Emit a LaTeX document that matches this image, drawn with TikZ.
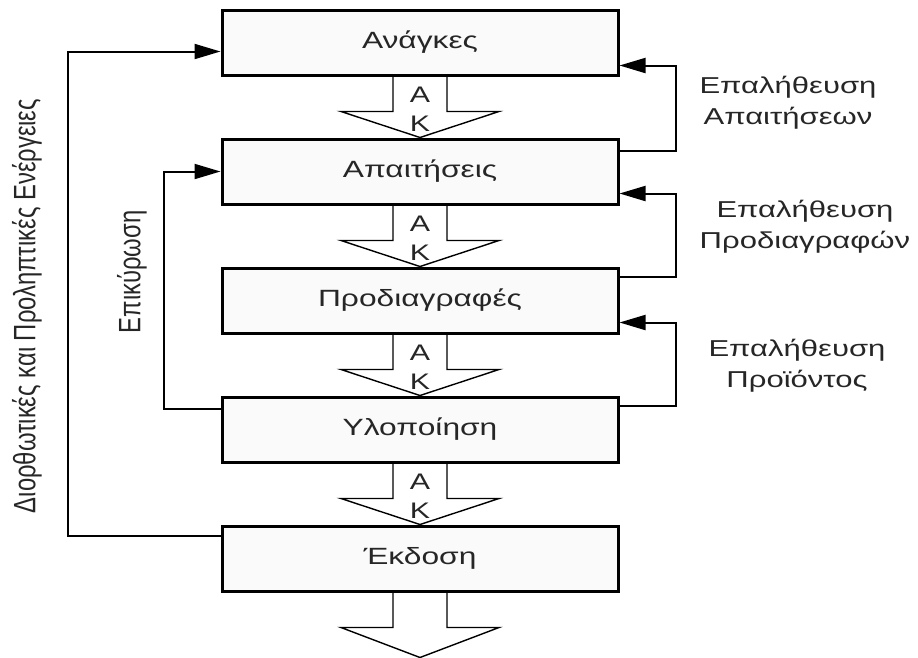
\documentclass[tikz,border=0pt]{standalone}
\usepackage{fontspec}
\setmainfont{Liberation Sans}
\newfontfamily\widefont{Liberation Sans}[FakeStretch=1.35]
\usetikzlibrary{arrows.meta,calc,backgrounds}

\begin{document}
\begin{tikzpicture}[x=1pt,y=-1pt,
  stage/.style={draw=black, line width=3pt, fill=gray!4, minimum width=396pt,
    minimum height=65pt, inner sep=0pt, text=black!85,
    font=\widefont\fontsize{23.5}{28}\selectfont},
  flowarrow/.style={draw=black, line width=1.4pt, fill=white, line join=miter},
  fb/.style={draw=black, line width=2pt, -{Triangle[length=26pt,width=15pt]}},
  lbl/.style={font=\widefont\fontsize{23}{31}\selectfont, align=center, text=black!85},
  vlbl/.style={rotate=90, inner sep=0pt, text=black!85, font=\fontsize{23.8}{28}\selectfont},
  ak/.style={font=\widefont\fontsize{22.5}{26}\selectfont, inner sep=0pt, text=black!85}
]
\useasboundingbox (0,0) rectangle (918,657);

% process stages
\node[stage] (b1) at (420,42.5)  {Ανάγκες};
\node[stage] (b2) at (420,171.5) {Απαιτήσεις};
\node[stage] (b3) at (420,300.5) {Προδιαγραφές};
\node[stage] (b4) at (420,429.5) {Υλοποίηση};
\node[stage] (b5) at (420,558.5) {Έκδοση};
\coordinate (out) at ($(b5.south)+(0,65)$);

% hollow flow arrows between stages
\begin{scope}[on background layer]
\foreach \u/\l in {b1/b2,b2/b3,b3/b4,b4/b5,b5/out} {
  \draw[flowarrow] ($(\u.south)+(-27,0)$) -- ($(\u.south)+(-27,35)$)
    -- ($(\u.south)+(-79,35)$) -- (\l.north) -- ($(\u.south)+(79,35)$)
    -- ($(\u.south)+(27,35)$) -- ($(\u.south)+(27,0)$);
}
\end{scope}
\foreach \u in {b1,b2,b3,b4} {
  \node[ak] at ($(\u.south)+(0,18)$) {Α};
  \node[ak] at ($(\u.south)+(0,47)$) {Κ};
}

% verification loops (right)
\draw[fb] ([yshift=-13pt]b2.north east) -- ++(56,0) |- ([yshift=11pt]b1.south east);
\draw[fb] ([yshift=-10pt]b3.north east) -- ++(56,0) |- ([yshift=12pt]b2.south east);
\draw[fb] ([yshift=-10pt]b4.north east) -- ++(56,0) |- ([yshift=12pt]b3.south east);

% validation and corrective loops (left)
\draw[fb] ([yshift=-13pt]b4.north west) -- ++(-57,0) |- (b2.west);
\draw[fb] ([yshift=-11pt]b5.north west) -- ++(-153,0) |- ([yshift=-43pt]b1.north west);

% labels
\node[lbl] (l1) at (788,103) {Επαλήθευση\\Απαιτήσεων};
\node[lbl] (l2) at (805,227) {Επαλήθευση\\Προδιαγραφών};
\node[lbl] (l3) at (797,366) {Επαλήθευση\\Προϊόντος};
\node[vlbl] (l4) at (27,306) {\scalebox{1}[1.3]{Διορθωτικές και Προληπτικές Ενέργειες}};
\node[vlbl] (l5) at (132,272) {\scalebox{1}[1.3]{Επικύρωση}};
\end{tikzpicture}
\end{document}
